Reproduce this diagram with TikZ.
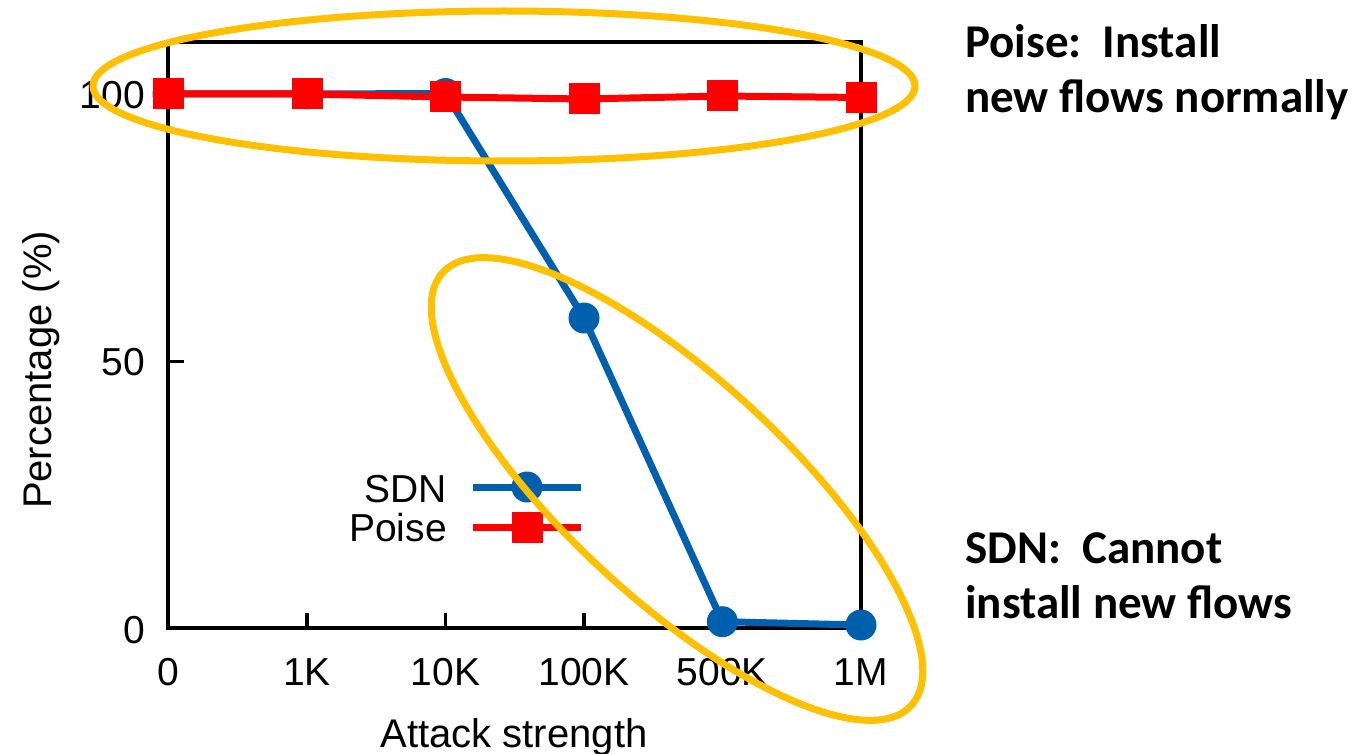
\documentclass[tikz,border=0pt]{standalone}
\usepackage{fontspec}
\setmainfont{Liberation Sans}
\newfontfamily\annfont{Carlito}
\frenchspacing
\definecolor{sdnblue}{RGB}{0,96,173}
\definecolor{poisered}{RGB}{255,0,0}
\definecolor{hlgold}{RGB}{255,192,0}
\tikzset{
  axisline/.style={draw=black, line width=3.5pt},
  ticklab/.style={inner sep=0pt, font=\fontsize{39}{47}\selectfont},
  axtitle/.style={inner sep=0pt, font=\fontsize{40}{48}\selectfont},
  sdnline/.style={draw=sdnblue, line width=7pt, line join=round},
  poiseline/.style={draw=poisered, line width=7pt, line join=round},
  sdnmark/.style={circle, fill=sdnblue, minimum size=31pt, inner sep=0pt},
  poisemark/.style={rectangle, fill=poisered, minimum size=31pt, inner sep=0pt},
  hl/.style={draw=hlgold, line width=7pt},
  ann/.style={inner sep=0pt, align=left, font=\annfont\bfseries\fontsize{47}{55}\selectfont},
}
\begin{document}
\begin{tikzpicture}[x=1pt, y=-1pt]
\useasboundingbox (0,0) rectangle (1355,754);

% plot frame and ticks
\draw[axisline] (168,42) rectangle (861,628);
\foreach \tx in {307,445.6,584,722.4} \draw[axisline] (\tx,628) -- (\tx,613);
\foreach \ty in {361.5,95} \draw[axisline] (168,\ty) -- (184,\ty);

% tick labels
\node[ticklab, anchor=base] (xl0) at (168,685) {0};
\node[ticklab, anchor=base] (xl1) at (307,685) {1K};
\node[ticklab, anchor=base] (xl2) at (445.6,685) {10K};
\node[ticklab, anchor=base] (xl3) at (584,685) {100K};
\node[ticklab, anchor=base] (xl4) at (722.4,685) {500K};
\node[ticklab, anchor=base] (xl5) at (861,685) {1M};
\node[ticklab, anchor=base east] (yl0) at (145,643) {0};
\node[ticklab, anchor=base east] (yl50) at (145,375) {50};
\node[ticklab, anchor=base east] (yl100) at (145,108.5) {100};

% axis titles
\node[axtitle, anchor=base] (xt) at (514,747) {Attack strength};
\node[axtitle, anchor=base, rotate=90] (yt) at (51,370) {Percentage (\%)};

% data points
\coordinate (s0) at (168,94);
\coordinate (s1) at (307,94);
\coordinate (s2) at (445.6,93.5);
\coordinate (s3) at (584,318);
\coordinate (s4) at (722.4,621.7);
\coordinate (s5) at (861,625);
\coordinate (p0) at (168,94);
\coordinate (p1) at (307,94);
\coordinate (p2) at (445.6,97);
\coordinate (p3) at (584,99);
\coordinate (p4) at (722.4,96);
\coordinate (p5) at (861,97.5);

% SDN series
\draw[sdnline] (s0) -- (s1) -- (s2) -- (s3) -- (s4) -- (s5);
\foreach \i in {0,...,5} \node[sdnmark] (ms\i) at (s\i) {};

% Poise series
\draw[poiseline] (p0) -- (p1) -- (p2) -- (p3) -- (p4) -- (p5);
\foreach \i in {0,...,5} \node[poisemark] (mp\i) at (p\i) {};

% legend
\node[ticklab, anchor=base east] (lgs) at (447,502) {SDN};
\node[ticklab, anchor=base east] (lgp) at (447,541) {Poise};
\coordinate (lsa) at (473,487);
\coordinate (lsb) at (581,487);
\coordinate (lpa) at (473,527);
\coordinate (lpb) at (581,527);
\draw[sdnline] (lsa) -- (lsb);
\node[sdnmark] (lsm) at (527,487) {};
\draw[poiseline] (lpa) -- (lpb);
\node[poisemark] (lpm) at (527,527) {};

% highlight ovals
\draw[hl] (504,86) ellipse [x radius=411, y radius=75];
\draw[hl, rotate around={-42.8:(677,489)}] (677,489) ellipse [x radius=319, y radius=110];

% annotations (anchored on the baseline of their last line)
\node[ann, anchor=base west] (annp) at (965,113) {Poise:~ Install\\new flows normally};
\node[ann, anchor=base west] (anns) at (965,618) {SDN:~ Cannot\\install new flows};
\end{tikzpicture}
\end{document}
